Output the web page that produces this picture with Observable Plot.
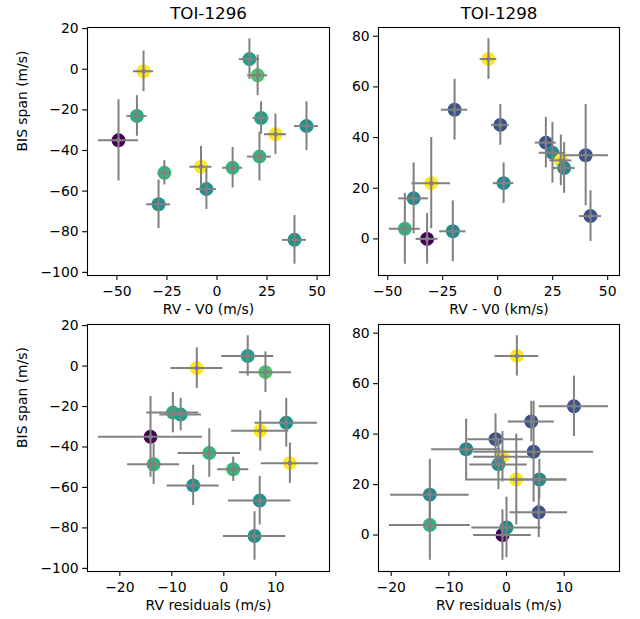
<!DOCTYPE html>
<html><head><meta charset="utf-8">
<script src="https://cdn.jsdelivr.net/npm/d3@7"></script>
<script src="https://cdn.jsdelivr.net/npm/@observablehq/plot@0.6"></script>
<style>
body{margin:0;background:#fff;}
#fig{position:relative;width:640px;height:619px;background:#fff;overflow:hidden;}
#fig svg{position:absolute;}
</style></head><body><div id="fig"></div>
<script>
// ---- TOI-1296 ----
const rv1296     = [-49.2, -36.7, -40.0, -26.3, -29.2, -8.0, -5.3, 7.8, 16.2, 20.3, 22.0, 21.2, 29.2, 44.7, 38.7];
const rvErr1296  = [10, 5, 5, 3, 6, 5.5, 5, 5, 5, 5, 4, 6, 5.5, 6, 6];
const bis1296    = [-35, -1, -23, -51, -66.5, -48, -59, -48.5, 5, -3, -24, -43, -32, -28, -84];
const bisErr1296 = [20, 10, 10, 6, 12, 10, 10, 10, 10, 10, 8, 12, 10, 12, 12];
const res1296    = [-14.1, -5.2, -9.8, 1.8, 6.9, 12.7, -5.9, -13.5, 4.6, 8.0, -8.3, -2.8, 7.0, 12.0, 5.9];
const col1296    = [0, 1, 0.63, 0.66, 0.5, 1, 0.5, 0.66, 0.57, 0.72, 0.57, 0.66, 1, 0.5, 0.5];

// ---- TOI-1298 ----
const rv1298     = [-4.2, -19.6, 1.2, 21.9, 24.9, 28.7, 30.2, 40.0, 42.2, 2.7, -30.2, -38.2, -42.2, -32.1, -20.4];
const rvErr1298  = [3.8, 6, 4, 4.8, 6, 5, 5, 10.4, 5, 4.7, 8.8, 6.8, 7, 5, 6];
const bis1298    = [71, 51, 45, 38, 34, 31, 28, 33, 9, 22, 22, 16, 4, 0, 3];
const bisErr1298 = [8, 12, 8, 10, 12, 10, 10, 20, 10, 8, 18, 14, 14, 10, 12];
const res1298    = [1.8, 11.7, 4.3, -1.9, -7.0, -0.7, -1.4, 4.7, 5.6, 5.7, 1.7, -13.3, -13.3, -0.7, 0.0];
const col1298    = [1, 0.25, 0.25, 0.25, 0.47, 1, 0.47, 0.25, 0.25, 0.47, 1, 0.47, 0.65, 0, 0.47];

// ---- tick labels / text ----
const titles = ["TOI-1296", "TOI-1298"];
const xLabelsTop = ["RV - V0 (m/s)", "RV - V0 (km/s)"];
const xLabelBottom = "RV residuals (m/s)";
const yLabel = "BIS span (m/s)";
const xTicksRV = [-50, -25, 0, 25, 50];
const xTicksRes = [-20, -10, 0, 10];
const yTicks1296 = [-100, -80, -60, -40, -20, 0, 20];
const yTicks1298 = [0, 20, 40, 60, 80];

function padded(v, e) {
  const lo = d3.min(v, (d, i) => d - e[i]);
  const hi = d3.max(v, (d, i) => d + e[i]);
  const m = (hi - lo) * 0.05;
  return [lo - m, hi + m];
}

const FS = 13.9;
function panel(o) {
  const rows = o.x.map((d, i) => ({x: d, xe: o.xErr[i], y: o.y[i], ye: o.yErr[i], c: o.c[i]}));
  const marks = [
    Plot.axisX({ticks: o.xTicks, tickSize: 4.9, tickPadding: 6, fontSize: FS, label: null, strokeWidth: 1.1}),
    Plot.axisY({ticks: o.yTicks, tickSize: 4.9, tickPadding: 4, fontSize: FS, label: null, strokeWidth: 1.1}),
    Plot.dot(rows, {x: "x", y: "y", r: 7, fill: "c", stroke: null}),
    Plot.ruleY(rows, {y: "y", x1: d => d.x - d.xe, x2: d => d.x + d.xe, stroke: "#808080", strokeWidth: 2}),
    Plot.ruleX(rows, {x: "x", y1: d => d.y - d.ye, y2: d => d.y + d.ye, stroke: "#808080", strokeWidth: 2}),
    Plot.dot(rows, {x: "x", y: "y", r: 2.3, fill: "#808080", stroke: null}),
    Plot.frame({stroke: "black", strokeWidth: 1.1}),
    Plot.text([o.xLabel], {text: d => d, frameAnchor: "bottom", dy: 29, lineAnchor: "top", fontSize: FS})
  ];
  if (o.title) marks.push(Plot.text([o.title], {text: d => d, frameAnchor: "top", dy: -8.4, lineAnchor: "bottom", fontSize: 16.7}));
  if (o.yLabel) marks.push(Plot.text([o.yLabel], {text: d => d, frameAnchor: "left", dx: -70, rotate: -90, lineAnchor: "top", fontSize: FS}));
  const svg = Plot.plot({
    width: o.width, height: o.height,
    marginLeft: o.ml, marginRight: o.mr, marginTop: o.mt, marginBottom: o.mb,
    x: {domain: padded(o.x, o.xErr)},
    y: {domain: padded(o.y, o.yErr)},
    color: {type: "linear", scheme: "viridis", domain: [0, 1]},
    style: {background: "transparent", color: "black", fontFamily: "DejaVu Sans", fontSize: FS + "px", overflow: "visible"},
    marks
  });
  svg.style.position = "absolute";
  svg.style.left = o.left + "px";
  svg.style.top = o.top + "px";
  document.getElementById("fig").appendChild(svg);
}

panel({x: rv1296, xErr: rvErr1296, y: bis1296, yErr: bisErr1296, c: col1296, xTicks: xTicksRV, yTicks: yTicks1296,
  title: titles[0], xLabel: xLabelsTop[0], yLabel, left: 0, top: 0, width: 335, height: 309, ml: 87, mr: 6, mt: 27, mb: 34});
panel({x: rv1298, xErr: rvErr1298, y: bis1298, yErr: bisErr1298, c: col1298, xTicks: xTicksRV, yTicks: yTicks1298,
  title: titles[1], xLabel: xLabelsTop[1], left: 335, top: 0, width: 305, height: 309, ml: 43, mr: 21, mt: 27, mb: 34});
panel({x: res1296, xErr: rvErr1296, y: bis1296, yErr: bisErr1296, c: col1296, xTicks: xTicksRes, yTicks: yTicks1296,
  xLabel: xLabelBottom, yLabel, left: 0, top: 309, width: 335, height: 310, ml: 87, mr: 6, mt: 15, mb: 48});
panel({x: res1298, xErr: rvErr1298, y: bis1298, yErr: bisErr1298, c: col1298, xTicks: xTicksRes, yTicks: yTicks1298,
  xLabel: xLabelBottom, left: 335, top: 309, width: 305, height: 310, ml: 43, mr: 21, mt: 15, mb: 48});
</script></body></html>
